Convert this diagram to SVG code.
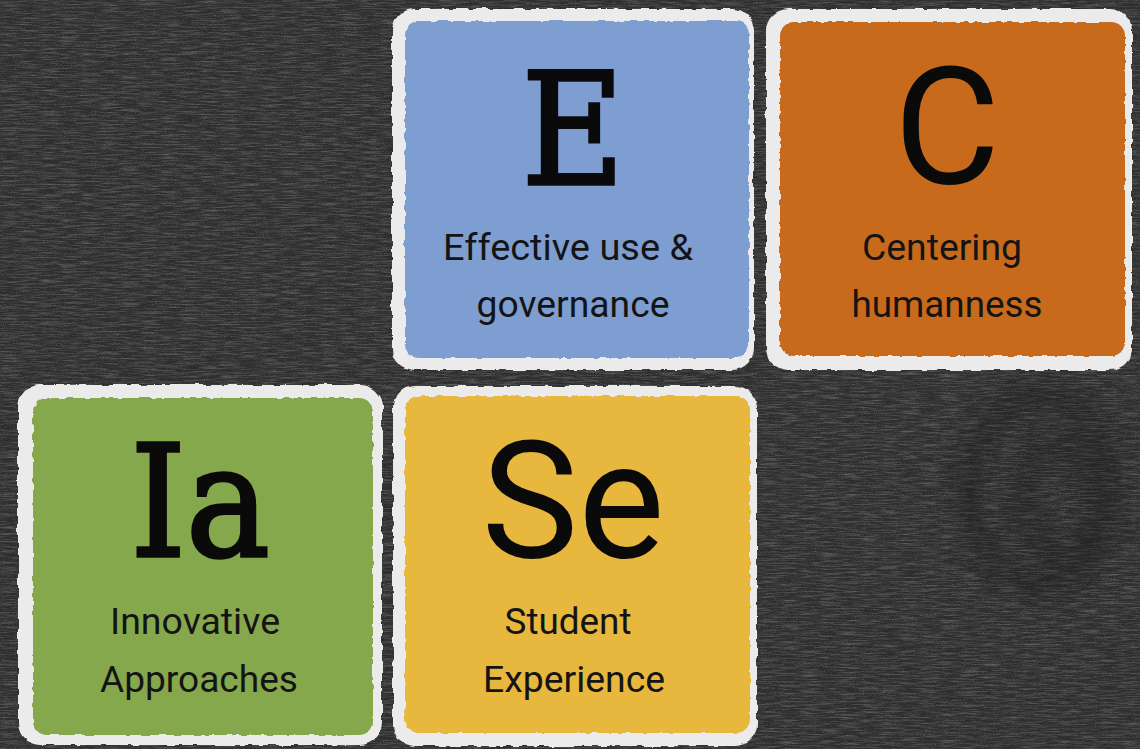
<svg xmlns="http://www.w3.org/2000/svg" width="1140" height="749" viewBox="0 0 1140 749">
  <defs>
    <filter id="chalk" x="0" y="0" width="100%" height="100%">
      <feTurbulence type="fractalNoise" baseFrequency="0.05 0.7" numOctaves="3" seed="7" result="n"/>
      <feColorMatrix in="n" type="matrix" values="0 0 0 0 1  0 0 0 0 1  0 0 0 0 1  1.5 0 0 0 -0.6"/>
    </filter>
    <filter id="speck" x="0" y="0" width="100%" height="100%">
      <feTurbulence type="fractalNoise" baseFrequency="0.9" numOctaves="1" seed="2" result="n"/>
      <feColorMatrix in="n" type="matrix" values="0 0 0 0 1  0 0 0 0 1  0 0 0 0 1  0 2.2 0 0 -1.2"/>
    </filter>
    <filter id="rough" x="-5%" y="-5%" width="110%" height="110%">
      <feTurbulence type="fractalNoise" baseFrequency="0.09" numOctaves="2" seed="3" result="t"/>
      <feDisplacementMap in="SourceGraphic" in2="t" scale="5" xChannelSelector="R" yChannelSelector="G"/>
    </filter>
    <filter id="rough2" x="-5%" y="-5%" width="110%" height="110%">
      <feTurbulence type="fractalNoise" baseFrequency="0.12" numOctaves="2" seed="11" result="t"/>
      <feDisplacementMap in="SourceGraphic" in2="t" scale="4" xChannelSelector="R" yChannelSelector="G"/>
    </filter>
    <filter id="smudge" x="-20%" y="-20%" width="140%" height="140%">
      <feGaussianBlur stdDeviation="10"/>
    </filter>
  </defs>
  <style>
    .frame { fill: #ebebeb; filter: url(#rough); }
    .face { filter: url(#rough2); }
    .serif { font-family: "DejaVu Serif Condensed", "DejaVu Serif", serif; font-stretch: condensed; fill: #0a0a0a; stroke: #0a0a0a; stroke-width: 3.5px; stroke-linejoin: miter; text-anchor: middle; }
    .sans { font-family: Roboto, "Liberation Sans", sans-serif; fill: #0a0a0a; text-anchor: middle; }
    .sub { font-family: Roboto, "Liberation Sans", sans-serif; fill: #141414; font-size: 37px; text-anchor: middle; }
  </style>

  <!-- chalkboard background -->
  <rect x="0" y="0" width="1140" height="749" fill="#2d2d2d"/>
  <rect x="0" y="0" width="1140" height="749" filter="url(#chalk)" opacity="0.3"/>
  <rect x="0" y="0" width="1140" height="749" filter="url(#speck)" opacity="0.25"/>
  <g opacity="0.35" filter="url(#smudge)" fill="none" stroke="#151515" stroke-width="22">
    <ellipse cx="1040" cy="490" rx="70" ry="95"/>
    <ellipse cx="1060" cy="500" rx="35" ry="55"/>
  </g>

  <g id="node-E">
    <rect class="frame" x="392" y="9" width="362" height="361" rx="22"/>
    <rect class="face" x="405" y="21" width="344" height="337" rx="14" fill="#7e9dd0"/>
    <text class="serif" x="573" y="184" font-size="156">E</text>
    <text class="sub" x="568" y="260" textLength="250" lengthAdjust="spacingAndGlyphs">Effective use &amp;</text>
    <text class="sub" x="573" y="317" textLength="193" lengthAdjust="spacingAndGlyphs">governance</text>
  </g>

  <g id="node-C">
    <rect class="frame" x="766" y="9" width="366" height="361" rx="22"/>
    <rect class="face" x="780" y="22" width="345" height="334" rx="14" fill="#c86a1c"/>
    <text class="sans" x="947" y="183" font-size="163">C</text>
    <text class="sub" x="942" y="260" textLength="160" lengthAdjust="spacingAndGlyphs">Centering</text>
    <text class="sub" x="947" y="317" textLength="191" lengthAdjust="spacingAndGlyphs">humanness</text>
  </g>

  <g id="node-Ia">
    <rect class="frame" x="18" y="385" width="364" height="360" rx="22"/>
    <rect class="face" x="33" y="398" width="340" height="337" rx="14" fill="#86a84d"/>
    <text class="serif" x="200" y="556" font-size="156">Ia</text>
    <text class="sub" x="195" y="634" textLength="170" lengthAdjust="spacingAndGlyphs">Innovative</text>
    <text class="sub" x="199" y="692" textLength="198" lengthAdjust="spacingAndGlyphs">Approaches</text>
  </g>

  <g id="node-Se">
    <rect class="frame" x="393" y="386" width="364" height="360" rx="22"/>
    <rect class="face" x="405" y="396" width="345" height="337" rx="14" fill="#e8b73e"/>
    <text class="sans" x="573" y="557" font-size="163">Se</text>
    <text class="sub" x="568" y="634" textLength="127" lengthAdjust="spacingAndGlyphs">Student</text>
    <text class="sub" x="574" y="692" textLength="182" lengthAdjust="spacingAndGlyphs">Experience</text>
  </g>

  <g id="connectors"/>
</svg>
